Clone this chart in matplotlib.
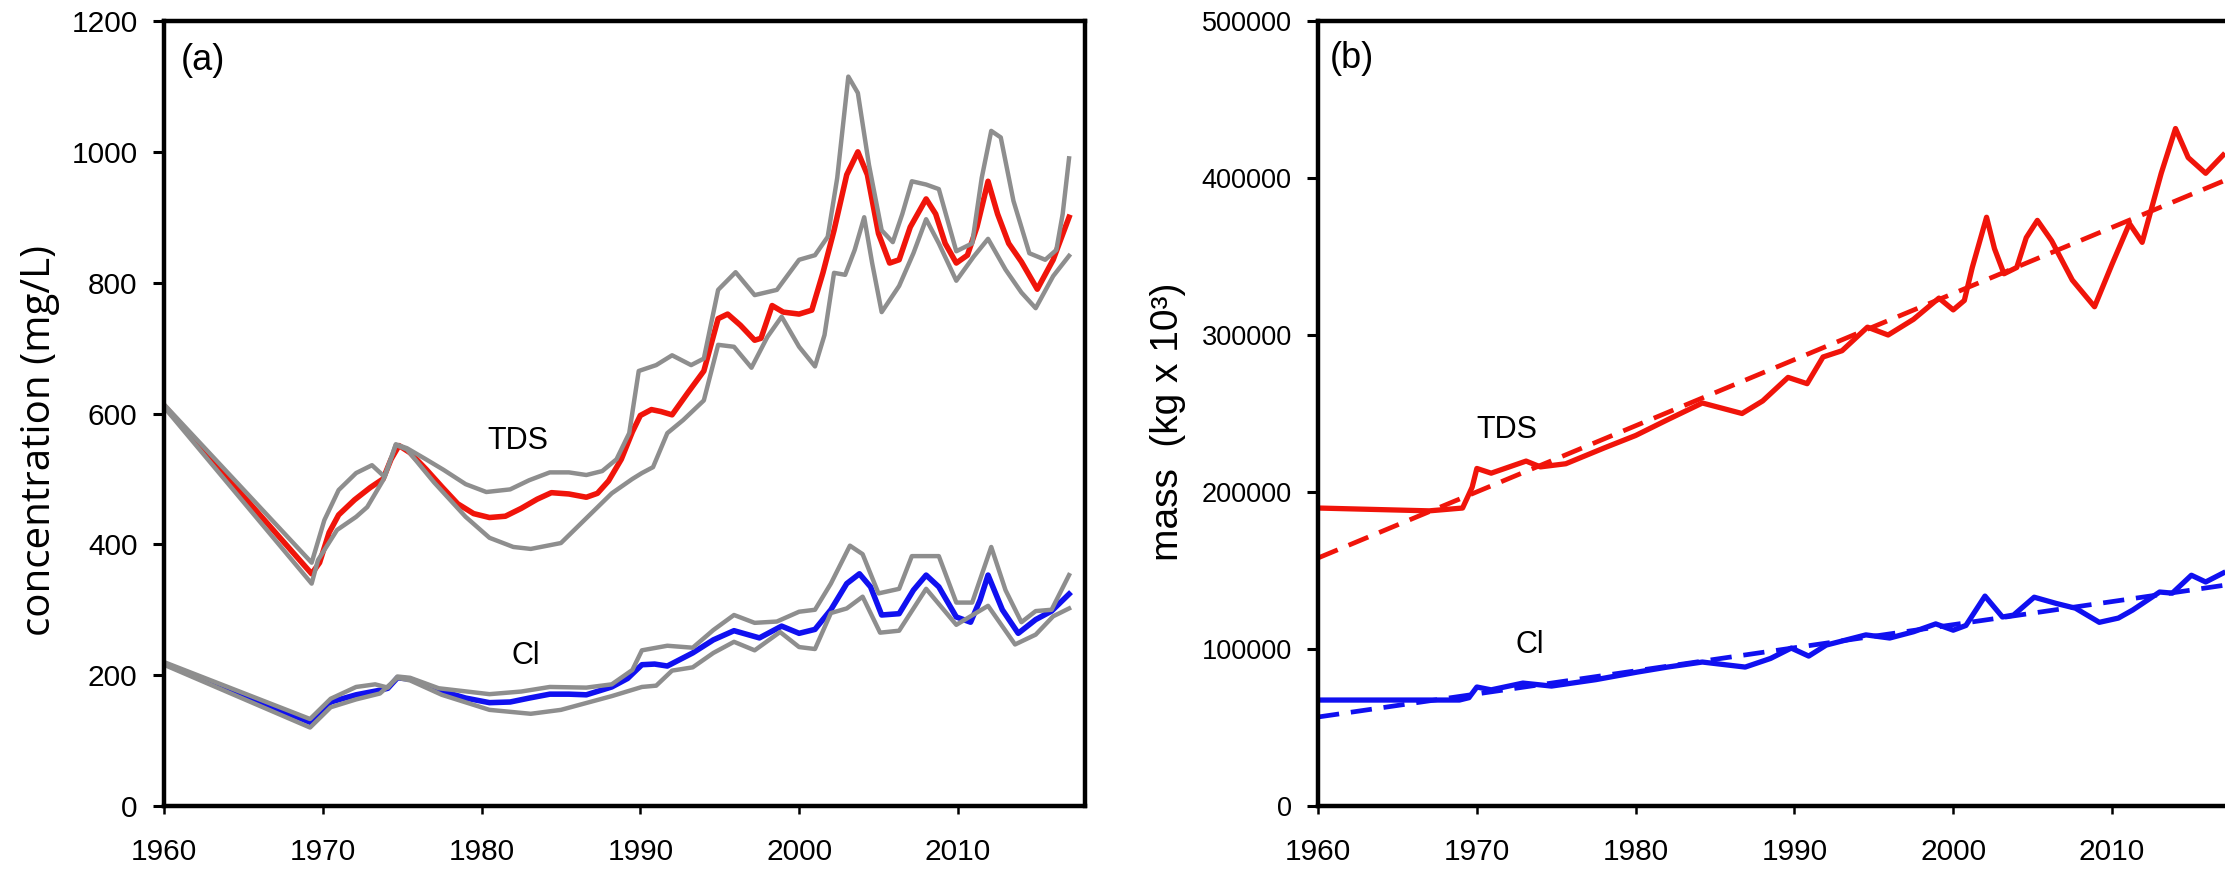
import matplotlib
matplotlib.use("Agg")
import matplotlib.pyplot as plt

plt.rcParams['font.family'] = ['Liberation Sans', 'DejaVu Sans']

# --- panel (a): concentration, mg/L ---
tds_mid_yr = [1960, 1969.3, 1969.8, 1970.4, 1971, 1972, 1973, 1973.8, 1974.3, 1974.8, 1975.5,
              1976.5, 1977.5, 1978.5, 1979.5, 1980.5, 1981.5, 1982.5, 1983.5, 1984.4, 1985.5,
              1986.6, 1987.3, 1988, 1988.8, 1989.5, 1990, 1990.7, 1991.3, 1992, 1993, 1994,
              1994.9, 1995.5, 1996.3, 1997.2, 1997.6, 1998.3, 1999, 2000, 2000.8, 2001.5,
              2002.2, 2003, 2003.7, 2004.3, 2005, 2005.7, 2006.3, 2007, 2008, 2008.6, 2009.2,
              2009.9, 2010.6, 2011.2, 2011.9, 2012.5, 2013.2, 2014, 2015, 2016, 2017]
tds_mid = [612, 355, 372, 418, 445, 468, 487, 500, 530, 551, 540,
           515, 488, 462, 447, 441, 443, 455, 469, 479, 477,
           472, 478, 497, 530, 572, 597, 606, 603, 598, 632, 665,
           745, 752, 735, 712, 715, 765, 755, 752, 758, 815,
           880, 965, 1000, 965, 875, 830, 835, 885, 928, 905, 860,
           830, 842, 885, 955, 905, 860, 832, 790, 835, 900]

tds_hi_yr = [1960, 1969.3, 1970.1, 1971, 1972.1, 1973.1, 1973.9, 1974.6, 1975.3, 1976.5, 1977.6,
             1979, 1980.3, 1981.8, 1983, 1984.3, 1985.5, 1986.6, 1987.6, 1988.5, 1989.3, 1989.9,
             1991, 1992, 1993.2, 1994, 1994.9, 1996, 1997.2, 1998.6, 2000, 2001, 2001.8, 2002.4,
             2003.1, 2003.7, 2004.4, 2005.2, 2005.9, 2006.5, 2007.1, 2008, 2008.8, 2009.9,
             2010.9, 2011.5, 2012.1, 2012.7, 2013.5, 2014.5, 2015.5, 2016.2, 2016.6, 2017]
tds_hi = [614, 372, 437, 483, 509, 521, 503, 553, 547, 530, 514,
          492, 480, 484, 498, 510, 510, 506, 512, 530, 570, 665,
          674, 689, 674, 684, 789, 816, 781, 789, 835, 842, 870, 960,
          1115, 1090, 980, 880, 862, 905, 955, 950, 943, 848,
          860, 960, 1032, 1022, 925, 845, 835, 850, 905, 990]

tds_lo_yr = [1960, 1969.3, 1969.7, 1970.9, 1972.1, 1972.8, 1973.8, 1974.6, 1975.3, 1977, 1979,
             1980.5, 1982, 1983.1, 1985, 1986.6, 1988.2, 1989.5, 1990.1, 1990.8, 1991.7, 1992.7,
             1994, 1994.9, 1995.9, 1997, 1998, 1998.9, 2000, 2001, 2001.6, 2002.2, 2002.9,
             2003.5, 2004.1, 2004.6, 2005.2, 2006.3, 2007.2, 2008, 2008.8, 2009.9, 2011,
             2011.9, 2013, 2014, 2014.9, 2016, 2017]
tds_lo = [610, 340, 376, 422, 442, 457, 498, 552, 545, 495, 442,
          410, 396, 393, 402, 440, 478, 500, 509, 518, 570, 590,
          620, 705, 702, 670, 717, 748, 702, 672, 720, 815, 812,
          850, 900, 830, 755, 795, 845, 897, 860, 803, 840,
          867, 820, 785, 761, 810, 841]

cl_mid_yr = [1960, 1969.2, 1969.7, 1970.5, 1972.1, 1973.6, 1974.1, 1974.7, 1975.5, 1977.3, 1979,
             1980.5, 1981.8, 1983, 1984.3, 1985.5, 1986.6, 1988.2, 1989.2, 1990.1, 1990.9,
             1991.7, 1993.3, 1994.6, 1995.9, 1997.5, 1998.9, 2000, 2001, 2002, 2003, 2003.8,
             2004.5, 2005.2, 2006.3, 2007.2, 2008, 2008.8, 2009.9, 2010.8, 2011.4, 2011.9,
             2012.8, 2013.8, 2014.9, 2015.9, 2017]
cl_mid = [218, 128, 138, 159, 170, 177, 180, 196, 194, 177, 165,
          158, 159, 165, 171, 171, 170, 182, 195, 216, 217,
          214, 234, 254, 268, 257, 275, 264, 270, 300, 340, 355,
          335, 292, 294, 330, 353, 335, 289, 281, 315, 353,
          300, 264, 285, 298, 324]

cl_hi_yr = [1960, 1969.2, 1970.5, 1972.1, 1973.3, 1974.1, 1974.7, 1975.5, 1977.3, 1980.5, 1982.5,
            1984.3, 1986.6, 1988.2, 1989.5, 1990.1, 1991.7, 1993.3, 1994.6, 1995.9, 1997.2,
            1998.6, 2000, 2001, 2002, 2003.2, 2004, 2005, 2006.3, 2007.1, 2008.8, 2009.9,
            2010.9, 2012.1, 2013, 2014, 2014.9, 2015.9, 2017]
cl_hi = [220, 133, 164, 182, 186, 181, 198, 196, 180, 171, 175,
         182, 181, 186, 208, 238, 245, 242, 269, 292, 280,
         282, 297, 300, 340, 398, 385, 325, 332, 382, 382, 311,
         311, 396, 330, 281, 298, 300, 353]

cl_lo_yr = [1960, 1969.2, 1970.5, 1972.1, 1973.6, 1974.7, 1975.5, 1977.5, 1980.5, 1983.1, 1985,
            1988.2, 1990.1, 1991, 1992, 1993.3, 1994.6, 1995.9, 1997.2, 1998.8, 2000, 2001,
            2002, 2003, 2004, 2005.1, 2006.3, 2008, 2009.9, 2011.9, 2013.6, 2014.9, 2016, 2017]
cl_lo = [216, 120, 151, 163, 172, 196, 192, 170, 147, 141, 147,
         168, 182, 184, 207, 212, 234, 251, 238, 266, 243, 240,
         295, 302, 320, 265, 268, 332, 277, 306, 247, 262, 290, 302]

# --- panel (b): mass, kg x 10^3 ---
tds_mass_yr = [1960, 1967, 1969.1, 1969.7, 1970, 1970.9, 1973.1, 1974, 1975.6, 1978, 1980, 1982,
               1984.2, 1986.7, 1988, 1989.6, 1990.8, 1991.8, 1993, 1994.6, 1995.9, 1997.5,
               1999.1, 2000, 2000.7, 2001.2, 2002.1, 2002.6, 2003.2, 2004, 2004.6, 2005.3,
               2006.2, 2007.5, 2008.9, 2010, 2011.1, 2011.9, 2013.1, 2014, 2014.8, 2015.9, 2017]
tds_mass = [189800, 188000, 189800, 203000, 215000, 212000, 219700, 216000, 218000, 228000,
            236000, 246000, 256700, 250000, 258000, 273000, 269000, 286000, 290000, 305000,
            300000, 310000, 323500, 316000, 322000, 343000, 375000, 355000, 339000, 343000,
            362000, 373000, 360000, 335000, 318000, 345000, 371000, 359000, 403000, 431500,
            413000, 403000, 414600]

cl_mass_yr = [1960, 1968.9, 1969.5, 1970, 1970.9, 1972.9, 1974.7, 1977.5, 1980.1, 1982, 1984.2,
              1986.9, 1988.5, 1989.8, 1990.9, 1992, 1994.5, 1996, 1997.5, 1998.9, 2000, 2000.8,
              2002, 2003.1, 2003.8, 2005.1, 2006.5, 2007.7, 2009.2, 2010.4, 2011.3, 2013,
              2013.8, 2015, 2015.9, 2017]
cl_mass = [67500, 67500, 69000, 75800, 74000, 78300, 76400, 80500, 85300, 88500, 91700,
           88500, 94000, 100600, 95500, 102500, 109000, 107000, 111000, 116000, 112000, 115000,
           133700, 120400, 121600, 133000, 129000, 126000, 117000, 119700, 124800, 136300,
           135600, 147000, 142700, 148400]

trend_yr = [1960, 2017]
tds_trend = [158000, 398000]
cl_trend = [56700, 140500]

red = '#f0140a'
blue = '#1010f0'
grey = '#8e8e8e'

fig = plt.figure(figsize=(22.25, 8.71), dpi=100)
ax1 = fig.add_axes([0.0737, 0.0746, 0.4139, 0.9013])
ax2 = fig.add_axes([0.5924, 0.0746, 0.4139, 0.9013])

# panel (a)
ax1.plot(tds_mid_yr, tds_mid, color=red, lw=4.0, solid_joinstyle='round')
ax1.plot(cl_mid_yr, cl_mid, color=blue, lw=4.0, solid_joinstyle='round')
for yr, val in [(tds_hi_yr, tds_hi), (tds_lo_yr, tds_lo), (cl_hi_yr, cl_hi), (cl_lo_yr, cl_lo)]:
    ax1.plot(yr, val, color=grey, lw=3.2, solid_joinstyle='round')

ax1.set_xlim(1960, 2018)
ax1.set_ylim(0, 1200)
ax1.set_yticks(range(0, 1201, 200))
ax1.text(1982.3, 558, 'TDS', fontsize=22, ha='center', va='center')
ax1.text(1982.8, 229, 'Cl', fontsize=22, ha='center', va='center')
ax1.text(0.018, 0.972, '(a)', transform=ax1.transAxes, fontsize=26, ha='left', va='top')

# panel (b)
ax2.plot(tds_mass_yr, tds_mass, color=red, lw=3.8, solid_joinstyle='round')
ax2.plot(cl_mass_yr, cl_mass, color=blue, lw=3.8, solid_joinstyle='round')
ax2.plot(trend_yr, tds_trend, color=red, lw=3.4, linestyle=(0, (4.5, 2.5)))
ax2.plot(trend_yr, cl_trend, color=blue, lw=3.4, linestyle=(0, (4.5, 2.5)))

ax2.set_xlim(1960, 2018)
ax2.set_ylim(0, 500000)
ax2.set_yticks(range(0, 500001, 100000))
ax2.text(1971.9, 239500, 'TDS', fontsize=22, ha='center', va='center')
ax2.text(1973.3, 102500, 'Cl', fontsize=22, ha='center', va='center')
ax2.text(0.013, 0.975, '(b)', transform=ax2.transAxes, fontsize=26, ha='left', va='top')

for ax, ysize in [(ax1, 21.5), (ax2, 19.5)]:
    ax.set_xticks(range(1960, 2011, 10))
    for s in ax.spines.values():
        s.set_linewidth(3.2)
    ax.tick_params(axis='x', direction='out', length=6, width=1.8, pad=17, labelsize=21.5)
    ax.tick_params(axis='y', direction='out', length=8, width=2.2, pad=11, labelsize=ysize)

fig.text(0.0225, 0.4948, 'concentration (mg/L)', rotation=90, rotation_mode='anchor',
         ha='center', va='baseline', fontsize=29, family=['Open Sans', 'DejaVu Sans'])
fig.text(0.5294, 0.5155, 'mass  (kg x 10³)', rotation=90, rotation_mode='anchor',
         ha='center', va='baseline', fontsize=28)

fig.savefig('out.png', dpi=100)
